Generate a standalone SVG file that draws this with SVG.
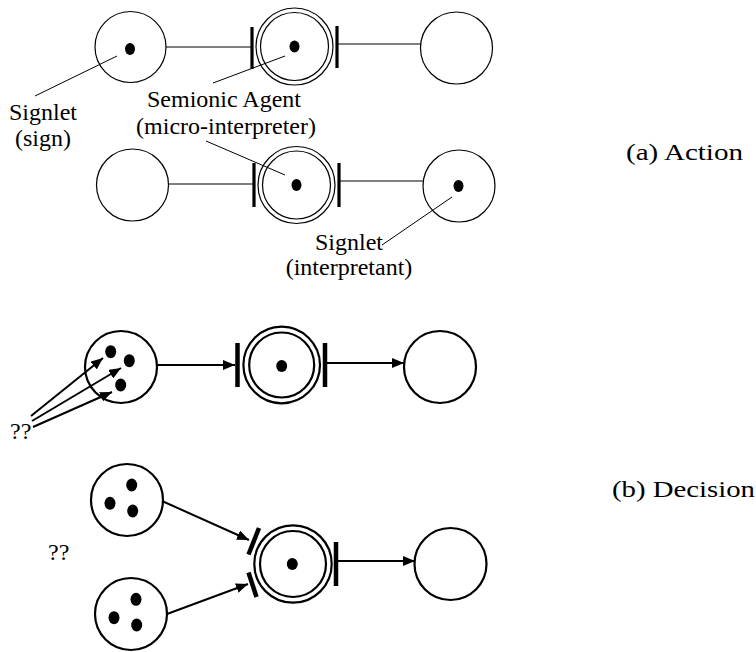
<svg xmlns="http://www.w3.org/2000/svg" width="756" height="652" viewBox="0 0 756 652">
  <style>
    .place { fill: none; stroke: #000; stroke-width: 1.2; }
    .place2 { fill: none; stroke: #000; stroke-width: 2.2; }
    .tok { fill: #000; }
    .bar { stroke: #000; stroke-width: 3.2; }
    .bar2 { stroke: #000; stroke-width: 4.5; }
    .arc { stroke: #000; stroke-width: 1.2; fill: none; }
    .arc2 { stroke: #000; stroke-width: 2; fill: none; }
    .lead { stroke: #000; stroke-width: 1; fill: none; }
    .lbl { font-family: "Liberation Serif", "Times New Roman", serif; font-size: 24px; fill: #000; }
  </style>
  <defs>
    <marker id="ah" viewBox="0 0 12 10" refX="12" refY="5" markerWidth="12" markerHeight="10" markerUnits="userSpaceOnUse" orient="auto">
      <path d="M0,0 L12,5 L0,10 Z" fill="#000"/>
    </marker>
  </defs>

  <rect width="756" height="652" fill="#fff"/>

  <!-- connectors -->
  <g id="connectors">
    <!-- (a) row 1 -->
    <line class="arc" x1="166" y1="47" x2="252" y2="47"/>
    <line class="arc" x1="337" y1="44" x2="421" y2="44"/>
    <!-- (a) row 2 -->
    <line class="arc" x1="168" y1="184" x2="254" y2="184"/>
    <line class="arc" x1="339" y1="181" x2="423" y2="181"/>
    <!-- (b) row 1 -->
    <line class="arc2" x1="157" y1="365" x2="235" y2="365" marker-end="url(#ah)"/>
    <line class="arc2" x1="327" y1="363" x2="404" y2="363" marker-end="url(#ah)"/>
    <line class="arc2" x1="31" y1="416" x2="103" y2="358" marker-end="url(#ah)"/>
    <line class="arc2" x1="32" y1="421" x2="121" y2="368" marker-end="url(#ah)"/>
    <line class="arc2" x1="33" y1="427" x2="112" y2="392" marker-end="url(#ah)"/>
    <!-- (b) row 2 -->
    <line class="arc2" x1="162" y1="501" x2="249" y2="540" marker-end="url(#ah)"/>
    <line class="arc2" x1="167" y1="614" x2="248" y2="584" marker-end="url(#ah)"/>
    <line class="arc2" x1="338" y1="561" x2="415" y2="561" marker-end="url(#ah)"/>
  </g>

  <!-- (a) Action, upper net -->
  <g id="a1-sign">
    <circle class="place" cx="130.5" cy="47" r="35.5"/>
    <ellipse class="tok" cx="130" cy="49" rx="5" ry="6"/>
  </g>
  <g id="a1-agent">
    <line class="bar" x1="252" y1="27" x2="252" y2="69"/>
    <circle class="place" cx="294.5" cy="46.5" r="38.5"/>
    <circle class="place" cx="294.5" cy="46.5" r="34"/>
    <ellipse class="tok" cx="294.5" cy="46.5" rx="5" ry="6"/>
    <line class="bar" x1="337" y1="26" x2="337" y2="68"/>
  </g>
  <g id="a1-out">
    <circle class="place" cx="456.5" cy="48" r="36"/>
  </g>

  <!-- (a) Action, lower net -->
  <g id="a2-in">
    <circle class="place" cx="132.5" cy="185" r="36"/>
  </g>
  <g id="a2-agent">
    <line class="bar" x1="254" y1="163" x2="254" y2="207"/>
    <circle class="place" cx="296.5" cy="185" r="38.5"/>
    <circle class="place" cx="296.5" cy="185" r="34"/>
    <ellipse class="tok" cx="296.5" cy="185" rx="5" ry="6"/>
    <line class="bar" x1="339" y1="163" x2="339" y2="207"/>
  </g>
  <g id="a2-interpretant">
    <circle class="place" cx="459" cy="186" r="36"/>
    <ellipse class="tok" cx="458.5" cy="186" rx="5" ry="6"/>
  </g>

  <!-- labels with leader lines -->
  <g id="label-sign">
    <line class="lead" x1="117" y1="56" x2="35" y2="96"/>
    <text class="lbl" x="43" y="120" text-anchor="middle">Signlet</text>
    <text class="lbl" x="43" y="146" text-anchor="middle">(sign)</text>
  </g>
  <g id="label-agent">
    <line class="lead" x1="213" y1="83" x2="285" y2="56"/>
    <line class="lead" x1="206" y1="141" x2="285" y2="175"/>
    <text class="lbl" x="224" y="107" text-anchor="middle">Semionic Agent</text>
    <text class="lbl" x="226" y="134" text-anchor="middle">(micro-interpreter)</text>
  </g>
  <g id="label-interpretant">
    <line class="lead" x1="382" y1="245" x2="452" y2="197"/>
    <text class="lbl" x="349" y="250" text-anchor="middle">Signlet</text>
    <text class="lbl" x="349" y="275" text-anchor="middle">(interpretant)</text>
  </g>
  <text id="caption-a" class="lbl" x="626" y="160" textLength="117" lengthAdjust="spacingAndGlyphs">(a) Action</text>

  <!-- (b) Decision, upper net -->
  <g id="b1-in">
    <circle class="place2" cx="121" cy="367" r="36"/>
    <ellipse class="tok" cx="110.7" cy="351.7" rx="5.5" ry="6.5"/>
    <ellipse class="tok" cx="129.3" cy="360.7" rx="5.5" ry="6.5"/>
    <ellipse class="tok" cx="120.7" cy="385" rx="5.5" ry="6.5"/>
  </g>
  <g id="b1-agent">
    <line class="bar2" x1="237.5" y1="343" x2="237.5" y2="387"/>
    <circle class="place2" cx="281.7" cy="365" r="38.3"/>
    <circle class="place2" cx="281.7" cy="365" r="32.5"/>
    <ellipse class="tok" cx="281.7" cy="366" rx="5.5" ry="6"/>
    <line class="bar2" x1="325" y1="343" x2="325" y2="387"/>
  </g>
  <g id="b1-out">
    <circle class="place2" cx="440" cy="367" r="36"/>
  </g>
  <text id="q1" class="lbl" x="10" y="439">??</text>

  <!-- (b) Decision, lower net -->
  <g id="b2-in-upper">
    <circle class="place2" cx="127" cy="500" r="36"/>
    <ellipse class="tok" cx="131.7" cy="485" rx="5.5" ry="6.5"/>
    <ellipse class="tok" cx="110" cy="503.3" rx="5.5" ry="6.5"/>
    <ellipse class="tok" cx="132.7" cy="511" rx="5.5" ry="6.5"/>
  </g>
  <g id="b2-in-lower">
    <circle class="place2" cx="131" cy="614" r="36"/>
    <ellipse class="tok" cx="136" cy="599.3" rx="5.5" ry="6.5"/>
    <ellipse class="tok" cx="114" cy="617.7" rx="5.5" ry="6.5"/>
    <ellipse class="tok" cx="136.7" cy="625" rx="5.5" ry="6.5"/>
  </g>
  <g id="b2-agent">
    <line class="bar2" x1="259" y1="528" x2="248.5" y2="554.5"/>
    <line class="bar2" x1="248.5" y1="572.5" x2="256.5" y2="597"/>
    <circle class="place2" cx="293" cy="564" r="38.7"/>
    <circle class="place2" cx="293" cy="564" r="33"/>
    <ellipse class="tok" cx="292.3" cy="564" rx="5.5" ry="6"/>
    <line class="bar2" x1="336" y1="542" x2="336" y2="586"/>
  </g>
  <g id="b2-out">
    <circle class="place2" cx="450.5" cy="564" r="36"/>
  </g>
  <text id="q2" class="lbl" x="48" y="560">??</text>
  <text id="caption-b" class="lbl" x="612" y="497" textLength="143" lengthAdjust="spacingAndGlyphs">(b) Decision</text>
</svg>
